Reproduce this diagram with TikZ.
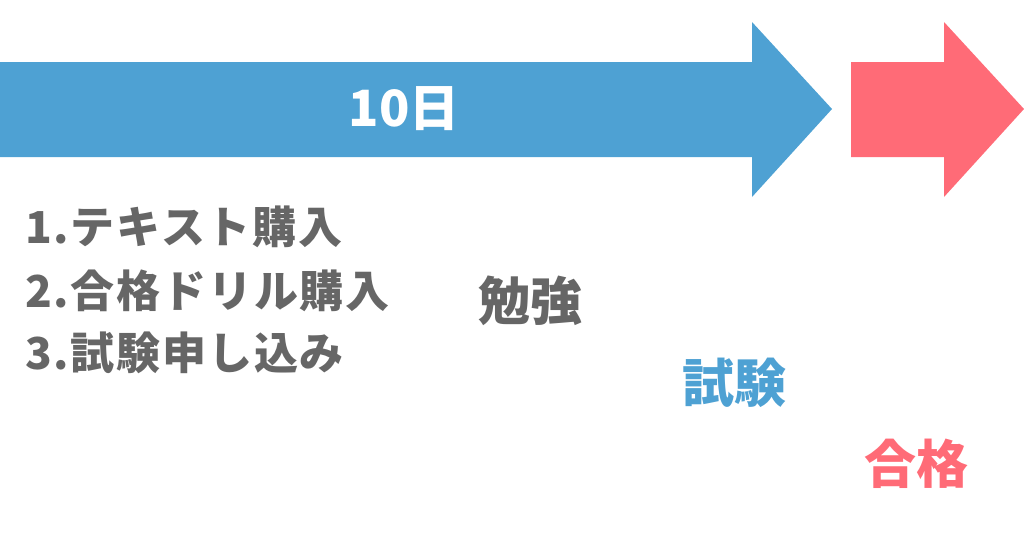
\documentclass[tikz,border=0pt]{standalone}
\usepackage{fontspec}
\newfontfamily\jp{Noto Sans CJK JP}
\newfontfamily\jpls{Noto Sans CJK JP}[LetterSpace=4]
\definecolor{ablue}{HTML}{4EA1D3}
\definecolor{ared}{HTML}{FF6B77}
\definecolor{agray}{HTML}{666666}
\begin{document}
\begin{tikzpicture}[x=1pt,y=-1pt,
  lbl/.style={inner sep=0pt, font=\jp\bfseries\fontsize{52}{58}\selectfont},
  item/.style={inner sep=0pt, anchor=west, text=agray, font=\jpls\bfseries\fontsize{44}{50}\selectfont}]
\useasboundingbox (0,0) rectangle (1024,536);
\fill[ablue] (0,62) -- (752,62) -- (752,22) -- (832,109) -- (752,197) -- (752,157) -- (0,157) -- cycle;
\fill[ared] (851,62) -- (944,62) -- (944,22) -- (1024,109) -- (944,197) -- (944,157) -- (851,157) -- cycle;
\node[lbl, text=white, font=\jp\bfseries\fontsize{50}{56}\selectfont] (days) at (404,109) {10日};
\node[item] (i1) at (25,227) {1.テキスト購入};
\node[item] (i2) at (25,291) {2.合格ドリル購入};
\node[item] (i3) at (25,353) {3.試験申し込み};
\node[lbl, text=agray] (study) at (530,301) {勉強};
\node[lbl, text=ablue] (exam) at (734,383) {試験};
\node[lbl, text=ared] (pass) at (916,464) {合格};
\end{tikzpicture}
\end{document}
